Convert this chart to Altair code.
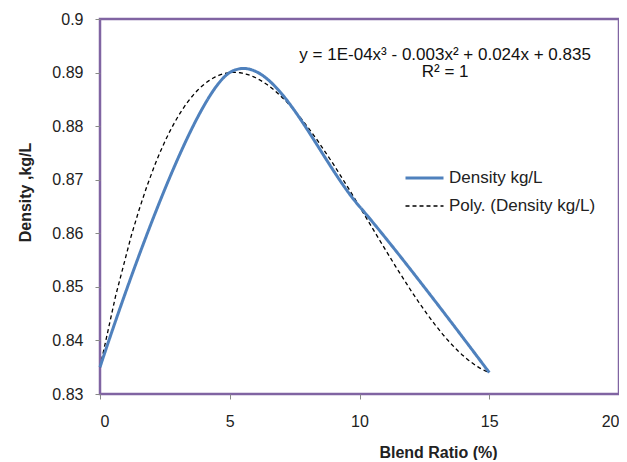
import altair as alt
import pandas as pd

blend = [0, 5, 10, 15]
density = [0.835, 0.890, 0.865, 0.834]
series_names = ["Density kg/L", "Poly. (Density kg/L)"]
equation_lines = ["y = 1E-04x³ - 0.003x² + 0.024x + 0.835", "R² = 1"]
y_ticks = [0.83, 0.84, 0.85, 0.86, 0.87, 0.88, 0.89, 0.9]
x_ticks = [0, 5, 10, 15, 20]

df = pd.DataFrame({"x": blend, "y": density})

FONT = "Liberation Sans"
PURPLE = "#8064A2"
BLUE = "#4F81BD"

xscale = alt.Scale(domain=[0, 20], nice=False)
yscale = alt.Scale(domain=[0.83, 0.9], nice=False, zero=False)

color = alt.Color("series:N", scale=alt.Scale(domain=series_names, range=[BLUE, "#000000"]),
                  legend=alt.Legend(title=None, orient="none", legendX=304, legendY=145,
                                    symbolType="stroke", symbolSize=1444, labelFontSize=17,
                                    labelFont=FONT, labelColor="#222", rowPadding=0,
                                    clipHeight=28, labelOffset=4))
dash = alt.StrokeDash("series:N", scale=alt.Scale(domain=series_names, range=[[1, 0], [4, 3]]))
width = alt.StrokeWidth("series:N", scale=alt.Scale(domain=series_names, range=[3, 1.3]))

xaxis = alt.Axis(title="Blend Ratio (%)", values=x_ticks, grid=False, domain=False,
                 tickColor="#888", tickSize=5, labelPadding=14, labelFontSize=16,
                 labelFont=FONT, labelColor="#222", titleFont=FONT, titleFontSize=16,
                 titleFontWeight="bold", titleColor="#222", titleX=338, titleY=58,
                 titleBaseline="middle")
yaxis = alt.Axis(title="Density ,kg/L", values=y_ticks, format=".2~f", grid=False, domain=False,
                 tickColor="#888", tickSize=5, labelPadding=12, labelFontSize=16,
                 labelFont=FONT, labelColor="#222", titleFont=FONT, titleFontSize=16,
                 titleFontWeight="bold", titleColor="#222", titleX=-75, titleY=173,
                 titleBaseline="middle")

base = alt.Chart(df)

line = base.transform_calculate(series="'Density kg/L'").mark_line(
    interpolate="cardinal", tension=0).encode(
    x=alt.X("x:Q", scale=xscale, axis=xaxis),
    y=alt.Y("y:Q", scale=yscale, axis=yaxis),
    color=color, strokeDash=dash, strokeWidth=width)

poly = base.transform_regression("x", "y", method="poly", order=3, extent=[0, 15]).transform_calculate(
    series="'Poly. (Density kg/L)'").mark_line().encode(
    x=alt.X("x:Q", scale=xscale),
    y=alt.Y("y:Q", scale=yscale),
    color=color, strokeDash=dash, strokeWidth=width)

eq = alt.Chart(pd.DataFrame({"t": [equation_lines]})).mark_text(
    font=FONT, fontSize=17, color="#111", align="center", baseline="middle", lineHeight=17
).encode(x=alt.datum(13.3), y=alt.datum(0.8932), text="t")

chart = alt.layer(poly, line, eq).properties(
    width=519, height=375,
    autosize=alt.AutoSizeParams(type="none"),
    padding={"left": 92, "top": 11, "right": 0, "bottom": 66},
    background="white",
).configure_view(stroke=PURPLE, strokeWidth=2.5)

chart.save("out.html", embed_options={"renderer": "svg", "actions": False})
